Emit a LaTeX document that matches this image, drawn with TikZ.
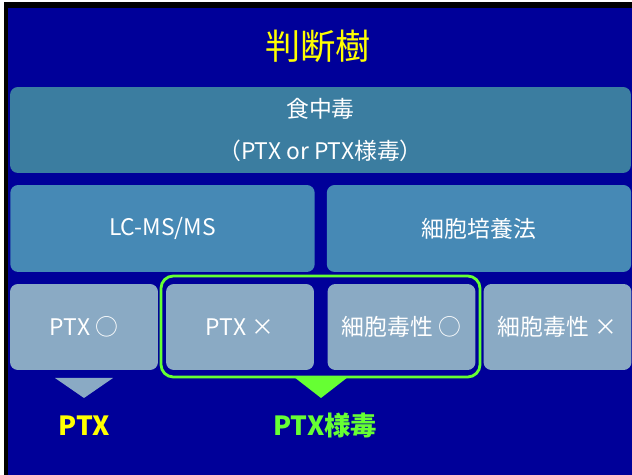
\documentclass[tikz,border=0pt]{standalone}
\usepackage{fontspec}
\setmainfont{Noto Sans CJK JP}

\definecolor{slidebg}{RGB}{0,0,153}
\definecolor{rootbox}{RGB}{59,125,160}
\definecolor{methodbox}{RGB}{70,137,181}
\definecolor{resultbox}{RGB}{138,170,196}
\definecolor{limegreen}{RGB}{102,255,51}
\definecolor{titleyellow}{RGB}{255,255,0}

\tikzset{
  box/.style={rectangle, rounded corners=4.5pt, inner sep=0pt, text=white,
    align=center, font=\fontsize{13}{24}\selectfont},
  rootstyle/.style={box, fill=rootbox, minimum width=12.42cm, minimum height=1.72cm},
  methodstyle/.style={box, fill=methodbox, minimum width=6.09cm, minimum height=1.74cm},
  resultstyle/.style={box, fill=resultbox, minimum width=2.96cm, minimum height=1.72cm}
}

\begin{document}
\begin{tikzpicture}[x=0.02cm,y=-0.02cm]
    % slide frame
    \fill[white] (0,0) rectangle (632,475);
    \fill[black] (4,2) rectangle (632,475);
    \fill[slidebg] (8,8) rectangle (632,475);
    \useasboundingbox (0,0) rectangle (632,475);

    \node[text=titleyellow, font=\fontsize{20}{24}\selectfont] (title) at (318,46) {判断樹};

    \node[rootstyle] (poison) at (320.5,130) {食中毒\\（PTX or PTX様毒）};

    \node[methodstyle] (lcms) at (162.5,228.5) {LC-MS/MS};
    \node[methodstyle] (culture) at (479,228.5) {細胞培養法};

    \node[resultstyle] (ptxyes) at (84,327) {PTX ○};
    \node[resultstyle] (ptxno) at (240,327) {PTX ×};
    \node[resultstyle] (toxyes) at (401.5,327) {細胞毒性 ○};
    \node[resultstyle] (toxno) at (557.5,327) {細胞毒性 ×};

    % green frame round the two middle results
    \draw[limegreen, line width=1.6pt, rounded corners=7pt] (161,276) rectangle (480,377);

    % pointers
    \fill[resultbox] (55,378) -- (113,378) -- (84,398) -- cycle;
    \fill[limegreen] (294,377) -- (348,377) -- (321,398) -- cycle;

    \node[text=titleyellow, font=\fontsize{15}{18}\selectfont\bfseries] (ptx) at (84,426) {PTX};
    \node[text=limegreen, font=\fontsize{15}{18}\selectfont\bfseries] (ptxlike) at (325,425) {PTX様毒};
\end{tikzpicture}
\end{document}
